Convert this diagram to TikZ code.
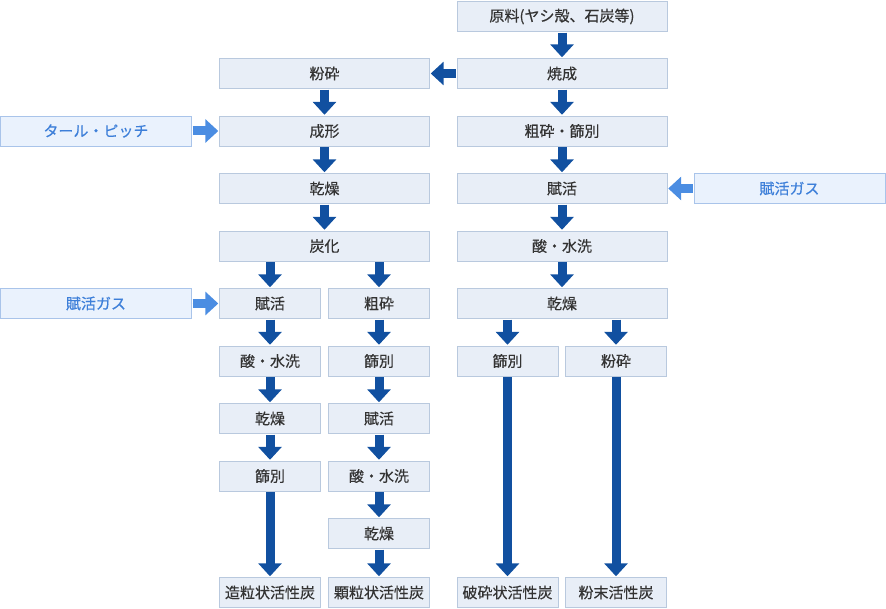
\documentclass[tikz,border=0pt]{standalone}
\usepackage{fontspec}
\setmainfont{Noto Sans CJK JP}[FakeBold=0.45]
\usetikzlibrary{arrows.meta}
\definecolor{boxfill}{HTML}{E8EEF7}
\definecolor{boxline}{HTML}{B9C9DE}
\definecolor{infill}{HTML}{EAF2FD}
\definecolor{inline}{HTML}{A9C4EA}
\definecolor{intext}{HTML}{3D7FD9}
\definecolor{flow}{HTML}{1150A0}
\definecolor{feed}{HTML}{4B8DE2}
\definecolor{ink}{HTML}{333333}
\begin{document}
\begin{tikzpicture}[x=1pt, y=-1pt,
    proc/.style={draw=boxline, fill=boxfill, minimum height=30pt, inner sep=0pt,
      text=ink, font=\fontsize{15}{18}\selectfont},
    wide/.style={proc, minimum width=210pt},
    narrow/.style={proc, minimum width=101pt},
    supply/.style={draw=inline, fill=infill, minimum width=191pt, minimum height=30pt,
      inner sep=0pt, text=intext, font=\fontsize{15}{18}\selectfont},
    flowarr/.style={draw=flow, line width=9pt, -{Triangle[width=23pt,length=13pt]},
      shorten >=1pt, shorten <=1pt},
    feedarr/.style={flowarr, draw=feed, fill=feed}]
  \useasboundingbox (0,0) rectangle (886,609);
  % main line (right)
  \node[wide] (genryo) at (562,16.5) {原料(ヤシ殻、石炭等)};
  \node[wide] (shosei) at (562,73.5) {焼成};
  \node[wide] (sosai) at (562,131) {粗砕・篩別};
  \node[wide] (fukatsu) at (562,188.5) {賦活};
  \node[wide] (sansui) at (562,246) {酸・水洗};
  \node[wide] (kanso) at (562,303.5) {乾燥};
  \node[narrow] (sibetsu) at (507.5,361) {篩別};
  \node[narrow] (funsai) at (616,361) {粉砕};
  \node[narrow] (hasai) at (507.5,592.5) {破砕状活性炭};
  \node[narrow] (funmatsu) at (616,592.5) {粉末活性炭};
  \node[supply] (gasR) at (789.5,188.5) {賦活ガス};
  % molding line (left)
  \node[wide] (funsaiL) at (324.5,73.5) {粉砕};
  \node[wide] (seikei) at (324.5,131) {成形};
  \node[wide] (kansoL) at (324.5,188.5) {乾燥};
  \node[wide] (tanka) at (324.5,246) {炭化};
  \node[supply] (tar) at (96,131) {タール・ピッチ};
  \node[supply] (gasL) at (96,303.5) {賦活ガス};
  % granulated
  \node[narrow] (fukatsuA) at (270,303.5) {賦活};
  \node[narrow] (sansuiA) at (270,361) {酸・水洗};
  \node[narrow] (kansoA) at (270,418.5) {乾燥};
  \node[narrow] (sibetsuA) at (270,476) {篩別};
  \node[narrow] (zoryu) at (270,592.5) {造粒状活性炭};
  % crushed granules
  \node[narrow] (sosaiB) at (379,303.5) {粗砕};
  \node[narrow] (sibetsuB) at (379,361) {篩別};
  \node[narrow] (fukatsuB) at (379,418.5) {賦活};
  \node[narrow] (sansuiB) at (379,476) {酸・水洗};
  \node[narrow] (kansoB) at (379,533.5) {乾燥};
  \node[narrow] (karyu) at (379,592.5) {顆粒状活性炭};

  % arrows
  \draw[flowarr] (genryo) -- (shosei);
  \draw[flowarr] (shosei) -- (sosai);
  \draw[flowarr] (sosai) -- (fukatsu);
  \draw[flowarr] (fukatsu) -- (sansui);
  \draw[flowarr] (sansui) -- (kanso);
  \draw[flowarr] (kanso.south -| sibetsu) -- (sibetsu);
  \draw[flowarr] (kanso.south -| funsai) -- (funsai);
  \draw[flowarr] (sibetsu) -- (hasai);
  \draw[flowarr] (funsai) -- (funmatsu);
  \draw[flowarr] (shosei) -- (funsaiL);
  \draw[flowarr] (funsaiL) -- (seikei);
  \draw[flowarr] (seikei) -- (kansoL);
  \draw[flowarr] (kansoL) -- (tanka);
  \draw[flowarr] (tanka.south -| fukatsuA) -- (fukatsuA);
  \draw[flowarr] (tanka.south -| sosaiB) -- (sosaiB);
  \draw[flowarr] (fukatsuA) -- (sansuiA);
  \draw[flowarr] (sansuiA) -- (kansoA);
  \draw[flowarr] (kansoA) -- (sibetsuA);
  \draw[flowarr] (sibetsuA) -- (zoryu);
  \draw[flowarr] (sosaiB) -- (sibetsuB);
  \draw[flowarr] (sibetsuB) -- (fukatsuB);
  \draw[flowarr] (fukatsuB) -- (sansuiB);
  \draw[flowarr] (sansuiB) -- (kansoB);
  \draw[flowarr] (kansoB) -- (karyu);
  % supplied gases / binder
  \draw[feedarr] (tar) -- (seikei);
  \draw[feedarr] (gasL) -- (fukatsuA);
  \draw[feedarr] (gasR) -- (fukatsu);
\end{tikzpicture}
\end{document}
